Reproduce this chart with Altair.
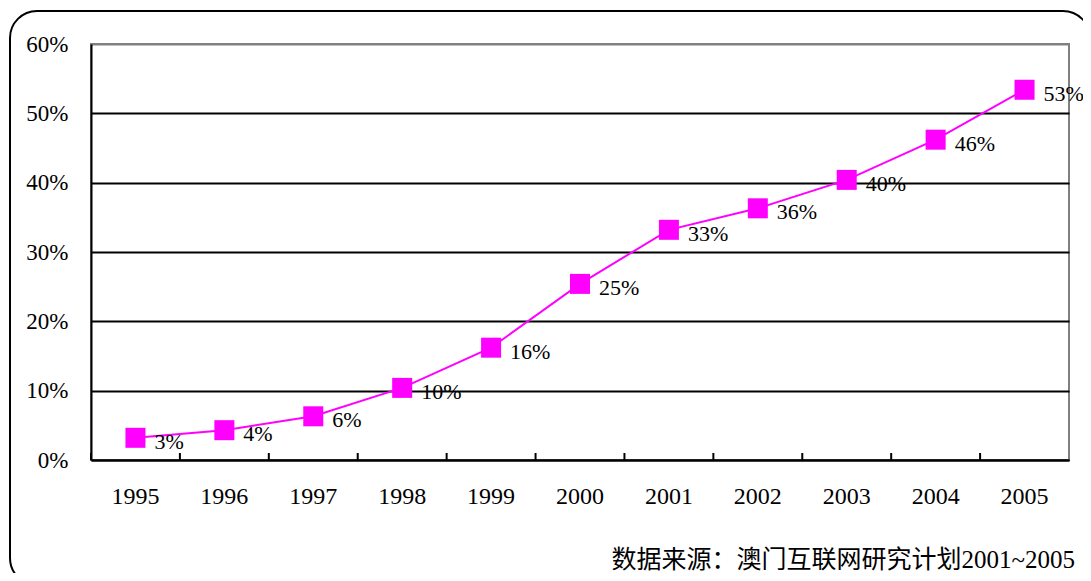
import altair as alt
import pandas as pd

years = ["1995", "1996", "1997", "1998", "1999", "2000", "2001", "2002", "2003", "2004", "2005"]
values = [3.2, 4.3, 6.3, 10.4, 16.2, 25.4, 33.2, 36.3, 40.4, 46.2, 53.4]
labels = ["3%", "4%", "6%", "10%", "16%", "25%", "33%", "36%", "40%", "46%", "53%"]
source_text = "数据来源：澳门互联网研究计划2001~2005"

df = pd.DataFrame({"year": years, "value": values, "label": labels})

SERIF = "Liberation Serif"
SRC_FONT = "Liberation Serif, Noto Sans CJK SC"
MAGENTA = "#FF00FF"
W, H = 978, 416

xscale = alt.Scale(type="band", paddingInner=0, paddingOuter=0)
yscale = alt.Scale(domain=[0, 60], nice=False)

x_enc = alt.X(
    "year:N", scale=xscale, sort=years, title=None,
    axis=alt.Axis(labelAngle=0, ticks=False, domainColor="black", domainWidth=2,
                  labelFont=SERIF, labelFontSize=24, labelColor="black", labelPadding=24,
                  labelAlign="center", grid=False),
)
y_enc = alt.Y(
    "value:Q", scale=yscale, title=None,
    axis=alt.Axis(values=[0, 10, 20, 30, 40, 50, 60], labelExpr="datum.value + '%'",
                  ticks=False, domainColor="black", domainWidth=2,
                  labelFont=SERIF, labelFontSize=23, labelColor="black", labelPadding=23,
                  grid=True, gridWidth=1.8,
                  gridColor=alt.condition("datum.value >= 60", alt.value("#808080"), alt.value("black"))),
)

base = alt.Chart(df)

frame = alt.Chart(pd.DataFrame({"a": [0]})).mark_rect(
    fillOpacity=0, stroke="black", strokeWidth=2, cornerRadius=27
).encode(x=alt.value(-81), x2=alt.value(999), y=alt.value(-33), y2=alt.value(541))

line = base.mark_line(color=MAGENTA, strokeWidth=2).encode(x=x_enc, y=y_enc)

ticks = base.mark_rule(color="black", strokeWidth=2).encode(
    x=alt.X("year:N", scale=xscale, sort=years, bandPosition=0, axis=None),
    y=alt.value(H), y2=alt.value(H - 7),
)

points = base.mark_square(color=MAGENTA, size=400, opacity=1, filled=True).encode(x=x_enc, y=y_enc)
text = base.mark_text(align="left", baseline="middle", dx=19, dy=4, font=SERIF,
                      fontSize=22, color="black").encode(x=x_enc, y=y_enc, text="label:N")

source = alt.Chart(pd.DataFrame({"t": [source_text]})).mark_text(
    align="right", baseline="alphabetic", font=SRC_FONT, fontSize=25, color="black"
).encode(x=alt.value(984), y=alt.value(524), text="t:N")

main = alt.layer(line, points, text)

chart = alt.layer(frame, ticks, main, source).resolve_axis(x="independent").properties(
    width=W, height=H,
    autosize=alt.AutoSizeParams(type="none"),
    padding={"left": 83, "top": 36, "right": 14, "bottom": 113},
).configure_view(stroke="#808080", strokeWidth=2)

chart.save("out.html", embed_options={"renderer": "svg", "actions": False})
